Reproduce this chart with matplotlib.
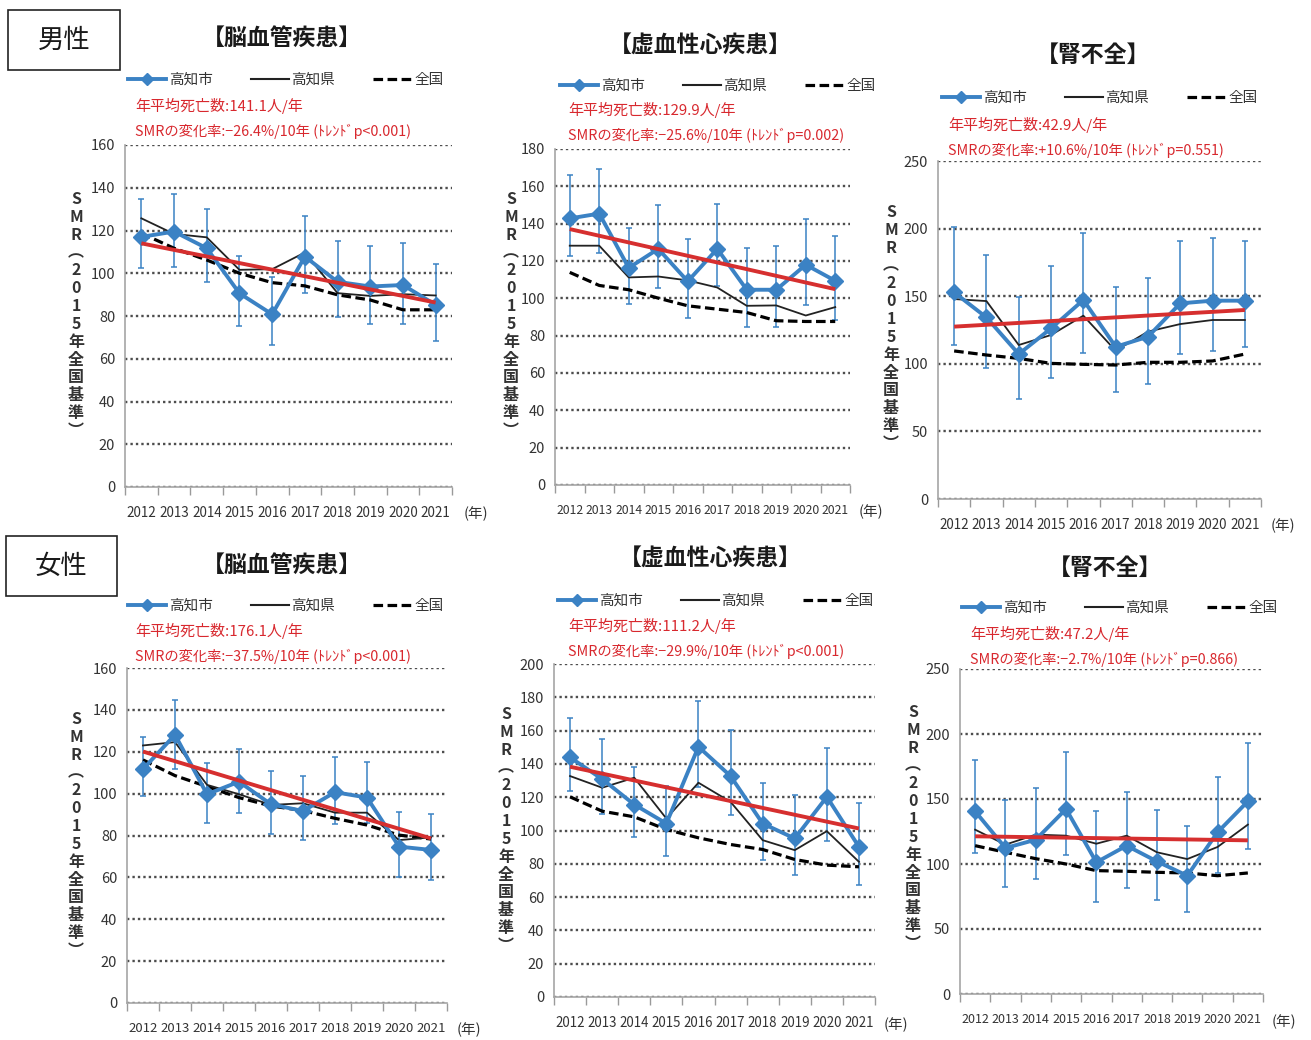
import matplotlib
matplotlib.use('Agg')
import matplotlib.pyplot as plt
from matplotlib.lines import Line2D
from matplotlib.patches import Rectangle
import numpy as np

plt.rcParams['font.family'] = ['Noto Sans CJK JP', 'DejaVu Sans']

years = ['2012', '2013', '2014', '2015', '2016', '2017', '2018', '2019', '2020', '2021']
legend_labels = ['高知市', '高知県', '全国']

# ---- 男性 脳血管疾患
m_cvd_city = [117, 119.5, 111.7, 90.6, 80.8, 107.8, 96, 93.8, 94.5, 85.2]
m_cvd_hi = [134.6, 137, 130, 108, 98.4, 127, 115, 112.8, 114.3, 104.2]
m_cvd_lo = [102.3, 102.8, 95.8, 75.4, 66.2, 90.6, 79.3, 76.2, 76.2, 68.4]
m_cvd_pref = [125.7, 118.4, 116.8, 101.6, 101.9, 109.7, 90.7, 89.4, 90.2, 89.6]
m_cvd_nat = [118.7, 111.7, 106.2, 100, 95.6, 94.1, 89.9, 87.5, 82.9, 82.9]
m_cvd_trend = [114, 86.3]
# ---- 男性 虚血性心疾患
m_ihd_city = [142.8, 145.4, 116.3, 126.5, 109.1, 126.5, 104.6, 104.6, 118, 109.4]
m_ihd_hi = [165.9, 169.3, 137.7, 150.2, 131.7, 150.7, 126.9, 128.2, 142.5, 133.2]
m_ihd_lo = [122.5, 124.2, 96.9, 105.8, 89.7, 106.4, 84.9, 84.4, 96.5, 88.5]
m_ihd_pref = [128.2, 128.2, 111.2, 111.7, 109.6, 105.8, 96, 96.2, 90.8, 95.3]
m_ihd_nat = [113.9, 106.9, 104.6, 100.1, 96, 94.2, 92.4, 88, 87.6, 87.6]
m_ihd_trend = [137.1, 104.9]
# ---- 男性 腎不全
m_rf_city = [152.8, 134.3, 107.2, 126.2, 147.2, 112.6, 120, 144.7, 146.7, 146.7]
m_rf_hi = [200.9, 180.2, 149.6, 172.7, 197, 157, 163.2, 191, 193.3, 191]
m_rf_lo = [113.9, 97.1, 73.7, 89.3, 108.2, 78.9, 85.1, 107.2, 109.7, 112.7]
m_rf_pref = [147.9, 146.4, 113.9, 121.3, 135.6, 109.7, 123.8, 129.4, 132.4, 132.4]
m_rf_nat = [109.5, 106.5, 104, 100.3, 99.6, 99.1, 101.1, 101.1, 102.1, 107.2]
m_rf_trend = [127.5, 139.8]
# ---- 女性 脳血管疾患
f_cvd_city = [111.7, 128.1, 99.7, 105.7, 94.9, 91.7, 100.7, 98.1, 74.7, 73.1]
f_cvd_hi = [127, 144.8, 114.5, 121.3, 111, 108.5, 117.7, 115.3, 91.4, 90.1]
f_cvd_lo = [98.9, 112, 85.8, 90.9, 80.6, 77.8, 85.3, 86.1, 60.3, 58.7]
f_cvd_pref = [123, 124.6, 104.2, 99.7, 94.6, 95.4, 90.9, 90.9, 77.8, 79.1]
f_cvd_nat = [116.1, 108.6, 103.4, 98.1, 94.1, 91.9, 88.2, 85, 80.2, 78.3]
f_cvd_trend = [120.1, 78.6]
# ---- 女性 虚血性心疾患
f_ihd_city = [143.9, 130.9, 115.6, 104.2, 150.3, 132.7, 104.2, 95.2, 120.2, 90.2]
f_ihd_hi = [167.3, 155.1, 137.9, 126.9, 178, 160.3, 128.7, 121.6, 149.7, 116.8]
f_ihd_lo = [123.8, 110, 95.8, 84.8, 126, 109.2, 82.2, 73.1, 93.6, 67.5]
f_ihd_pref = [132.7, 125.7, 131.7, 107.2, 128.7, 117.2, 94.2, 88.2, 99.6, 81.2]
f_ihd_nat = [120.2, 111.6, 108.2, 100.6, 95.6, 91.6, 88.6, 82.6, 79.2, 78.2]
f_ihd_trend = [138.3, 101.2]
# ---- 女性 腎不全
f_rf_city = [140.5, 112.3, 118.7, 142.3, 101.3, 114.1, 102, 91, 124.4, 148.2]
f_rf_hi = [180.3, 149.2, 158.2, 185.9, 140.5, 155.6, 141.8, 129.5, 166.9, 192.8]
f_rf_lo = [108.5, 82.1, 88.5, 107.2, 70.8, 81.5, 72.6, 62.8, 93, 111.3]
f_rf_pref = [126.4, 114.9, 122.6, 121.8, 115.6, 121.8, 109, 103.8, 113.1, 130.3]
f_rf_nat = [114.1, 109, 104.1, 100, 94.9, 94.4, 93.6, 93.1, 91, 93.1]
f_rf_trend = [121.3, 118.2]

titles = ['【脳血管疾患】', '【虚血性心疾患】', '【腎不全】',
          '【脳血管疾患】', '【虚血性心疾患】', '【腎不全】']
deaths_text = ['年平均死亡数:141.1人/年', '年平均死亡数:129.9人/年', '年平均死亡数:42.9人/年',
               '年平均死亡数:176.1人/年', '年平均死亡数:111.2人/年', '年平均死亡数:47.2人/年']
change_text = ['SMRの変化率:−26.4%/10年 (ﾄﾚﾝﾄﾞp<0.001)',
               'SMRの変化率:−25.6%/10年 (ﾄﾚﾝﾄﾞp=0.002)',
               'SMRの変化率:+10.6%/10年 (ﾄﾚﾝﾄﾞp=0.551)',
               'SMRの変化率:−37.5%/10年 (ﾄﾚﾝﾄﾞp<0.001)',
               'SMRの変化率:−29.9%/10年 (ﾄﾚﾝﾄﾞp<0.001)',
               'SMRの変化率:−2.7%/10年 (ﾄﾚﾝﾄﾞp=0.866)']
ylabel_text = 'SMR︵2015年全国基準︶'
year_unit = '(年)'
sex_labels = ['男性', '女性']

series = [
    (m_cvd_city, m_cvd_lo, m_cvd_hi, m_cvd_pref, m_cvd_nat, m_cvd_trend, 160, 20),
    (m_ihd_city, m_ihd_lo, m_ihd_hi, m_ihd_pref, m_ihd_nat, m_ihd_trend, 180, 20),
    (m_rf_city, m_rf_lo, m_rf_hi, m_rf_pref, m_rf_nat, m_rf_trend, 250, 50),
    (f_cvd_city, f_cvd_lo, f_cvd_hi, f_cvd_pref, f_cvd_nat, f_cvd_trend, 160, 20),
    (f_ihd_city, f_ihd_lo, f_ihd_hi, f_ihd_pref, f_ihd_nat, f_ihd_trend, 200, 20),
    (f_rf_city, f_rf_lo, f_rf_hi, f_rf_pref, f_rf_nat, f_rf_trend, 250, 50),
]

# layout in pixels: axes (left, top, right, bottom), title xy, legend xy, red text xy, ylabel xy, (年) xy
layout = [
    dict(ax=(125, 145, 452, 487), title=(282, 38), leg=(128, 80), red=(135, 106), ylab=(76, 315), unit=(476, 514)),
    dict(ax=(555, 149, 850, 485), title=(700, 45), leg=(560, 86), red=(568, 110), ylab=(511, 315), unit=(871, 512)),
    dict(ax=(938, 161, 1261, 499), title=(1093, 55), leg=(942, 98), red=(948, 125), ylab=(891, 328), unit=(1283, 526)),
    dict(ax=(127, 668, 447, 1003), title=(282, 565), leg=(128, 606), red=(135, 631), ylab=(76, 835), unit=(469, 1030)),
    dict(ax=(554, 664, 875, 997), title=(710, 558), leg=(558, 601), red=(568, 626), ylab=(506, 830), unit=(896, 1025)),
    dict(ax=(960, 669, 1263, 994), title=(1105, 568), leg=(962, 608), red=(970, 634), ylab=(913, 828), unit=(1284, 1022)),
]

W, H = 1311, 1040
fig = plt.figure(figsize=(W / 100, H / 100), dpi=100)
fig.patch.set_facecolor('white')

def fx(x):
    return x / W

def fy(y):
    return 1 - y / H

BLUE = '#3b82c4'
RED = '#d62f2f'
REDTXT = '#d8282e'
GRID = '#4d4d4d'

x = np.arange(len(years))
for i, (s, lay) in enumerate(zip(series, layout)):
    city, lo, hi, pref, nat, trend, ymax, step = s
    city = np.array(city); lo = np.array(lo); hi = np.array(hi)
    l, t, r, b = lay['ax']
    ax = fig.add_axes([fx(l), fy(b), (r - l) / W, (b - t) / H])
    ax.set_xlim(-0.5, len(years) - 0.5)
    ax.set_ylim(0, ymax)
    ax.set_yticks(np.arange(0, ymax + 1, step))
    ax.yaxis.grid(True, linestyle=(0, (1, 1.3)), color=GRID, linewidth=1.7)
    ax.set_axisbelow(True)
    ax.errorbar(x, city, yerr=[city - lo, hi - city], fmt='none', ecolor=BLUE,
                elinewidth=1.1, capsize=2.5, capthick=1.1, zorder=2)
    ax.plot(x, nat, color='black', lw=2.3, ls=(0, (3, 1.4)), zorder=3)
    ax.plot(x, pref, color='#222222', lw=1.3, zorder=4)
    ax.plot(x, city, color=BLUE, lw=2.8, marker='D', ms=8.5, zorder=5)
    ax.plot([x[0], x[-1]], trend, color=RED, lw=2.8, zorder=6, solid_capstyle='butt')
    ax.set_xticks(x)
    ax.set_xticklabels(years)
    ax.set_xticks(np.arange(-0.5, len(years), 1), minor=True)
    xfs = 9.8 * min(1.0, (r - l) / len(years) / 33.0)
    ax.tick_params(axis='x', which='major', length=0, pad=14, labelsize=xfs, labelcolor='#333333')
    ax.tick_params(axis='x', which='minor', length=6, color='#9a9a9a', width=1)
    ax.tick_params(axis='y', length=0, pad=7, labelsize=10.5, labelcolor='#333333')
    for sp in ['top', 'right']:
        ax.spines[sp].set_visible(False)
    for sp in ['left', 'bottom']:
        ax.spines[sp].set_color('#a6a6a6')
        ax.spines[sp].set_linewidth(1.2)

    # title
    fig.text(fx(lay['title'][0]), fy(lay['title'][1]), titles[i], ha='center', va='center',
             fontsize=16.5, fontweight='bold', color='#1a1a1a')
    # legend
    handles = [Line2D([], [], color=BLUE, lw=2.8, marker='D', ms=6),
               Line2D([], [], color='#222222', lw=1.5),
               Line2D([], [], color='black', lw=2.3, ls=(0, (3, 1.4)))]
    fig.legend(handles, legend_labels, ncol=3, loc='center left',
               bbox_to_anchor=(fx(lay['leg'][0]), fy(lay['leg'][1])),
               frameon=False, handlelength=2.6, handletextpad=0.2,
               columnspacing=2.6, fontsize=10.5, borderpad=0, borderaxespad=0,
               labelcolor='#333333')
    # red annotation
    rx, ry = lay['red']
    fig.text(fx(rx), fy(ry), deaths_text[i], color=REDTXT, fontsize=10.8, va='center', ha='left')
    fig.text(fx(rx), fy(ry + 25), change_text[i], color=REDTXT, fontsize=10.3, va='center', ha='left')
    # vertical y label
    fig.text(fx(lay['ylab'][0]), fy(lay['ylab'][1]), '\n'.join(ylabel_text), ha='center', va='center',
             multialignment='center', fontsize=11.5, fontweight='bold', linespacing=1.14, color='#333333')
    # unit
    fig.text(fx(lay['unit'][0]), fy(lay['unit'][1]), year_unit, ha='center', va='center',
             fontsize=10.5, color='#333333')

# sex labels in boxes
boxes = [(8, 10, 120, 70), (6, 536, 117, 596)]
for lab, (l, t, r, b) in zip(sex_labels, boxes):
    fig.add_artist(Rectangle((fx(l), fy(b)), (r - l) / W, (b - t) / H, transform=fig.transFigure,
                             fill=False, edgecolor='#222222', linewidth=1.2))
    fig.text(fx((l + r) / 2), fy((t + b) / 2), lab, ha='center', va='center', fontsize=19,
             color='#1a1a1a')

fig.savefig('out.png', dpi=100, facecolor='white')
